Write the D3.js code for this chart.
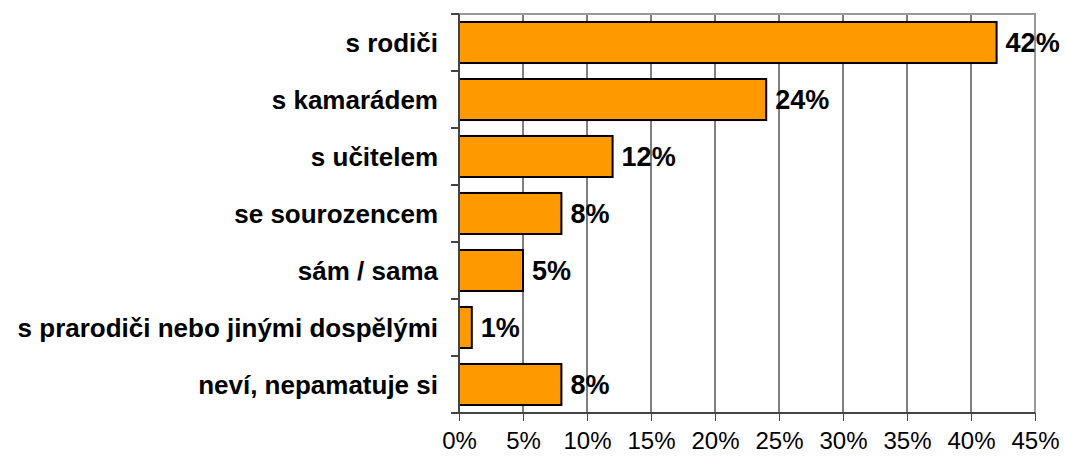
<!DOCTYPE html>
<html>
<head>
<meta charset="utf-8">
<script src="https://cdn.jsdelivr.net/npm/d3@7"></script>
<style>
body { margin: 0; background: #fff; }
svg text { font-family: Arial, "Liberation Sans", sans-serif; }
</style>
</head>
<body>
<div id="chart"></div>
<script>
var categories = ["s rodiči", "s kamarádem", "s učitelem", "se sourozencem", "sám / sama", "s prarodiči nebo jinými dospělými", "neví, nepamatuje si"];
var values = [42, 24, 12, 8, 5, 1, 8];
var tickValues = [0, 5, 10, 15, 20, 25, 30, 35, 40, 45];

var width = 1065, height = 457;
var plot = { left: 459, right: 1035, top: 14, bottom: 413 };

var svg = d3.select("#chart").append("svg")
	.attr("width", width)
	.attr("height", height);

var x = d3.scaleLinear().domain([0, 45]).range([plot.left, plot.right]);
var y = d3.scaleBand().domain(categories).range([plot.top, plot.bottom]).paddingInner(0.28).paddingOuter(0.14);

// grid lines
svg.selectAll("line.grid")
	.data(tickValues.slice(1, -1))
	.enter().append("line")
	.attr("x1", function(d) { return x(d); })
	.attr("x2", function(d) { return x(d); })
	.attr("y1", plot.top)
	.attr("y2", plot.bottom)
	.attr("stroke", "#000")
	.attr("stroke-width", 1);

// plot border top / right
svg.append("path")
	.attr("d", "M" + plot.left + "," + plot.top + "H" + plot.right + "V" + plot.bottom)
	.attr("fill", "none")
	.attr("stroke", "#999")
	.attr("stroke-width", 2);

// bars
svg.selectAll("rect.bar")
	.data(values)
	.enter().append("rect")
	.attr("x", x(0))
	.attr("y", function(d, i) { return y(categories[i]); })
	.attr("width", function(d) { return x(d) - x(0); })
	.attr("height", y.bandwidth())
	.attr("fill", "#FF9900")
	.attr("stroke", "#000")
	.attr("stroke-width", 2);

// value labels
svg.selectAll("text.val")
	.data(values)
	.enter().append("text")
	.attr("x", function(d) { return x(d) + 9; })
	.attr("y", function(d, i) { return y(categories[i]) + y.bandwidth() / 2; })
	.attr("dy", "0.36em")
	.attr("font-size", 27)
	.attr("font-weight", "bold")
	.text(function(d) { return d + "%"; });

// x axis
var xAxis = svg.append("g")
	.attr("transform", "translate(0," + plot.bottom + ")")
	.call(d3.axisBottom(x).tickValues(tickValues).tickFormat(function(d) { return d + "%"; }).tickSize(8).tickPadding(11));
xAxis.select(".domain").attr("stroke", "#444").attr("stroke-width", 2).attr("d", "M" + (plot.left - 8) + ",0H" + plot.right);
xAxis.selectAll(".tick line").attr("stroke", "#444");
xAxis.selectAll("text").attr("font-size", 24).attr("fill", "#000").attr("font-family", "Arial, 'Liberation Sans', sans-serif");

// y axis
var yTicks = d3.range(categories.length + 1).map(function(i) { return plot.top + i * (plot.bottom - plot.top) / categories.length; });
svg.append("line")
	.attr("x1", plot.left).attr("x2", plot.left)
	.attr("y1", plot.top).attr("y2", plot.bottom)
	.attr("stroke", "#444").attr("stroke-width", 2);
svg.selectAll("line.ytick")
	.data(yTicks)
	.enter().append("line")
	.attr("x1", plot.left - 8).attr("x2", plot.left)
	.attr("y1", function(d) { return d; }).attr("y2", function(d) { return d; })
	.attr("stroke", "#444").attr("stroke-width", 2);

svg.selectAll("text.cat")
	.data(categories)
	.enter().append("text")
	.attr("x", 438)
	.attr("y", function(d) { return y(d) + y.bandwidth() / 2; })
	.attr("dy", "0.36em")
	.attr("text-anchor", "end")
	.attr("font-size", 26)
	.attr("font-weight", "bold")
	.text(function(d) { return d; });
</script>
</body>
</html>
